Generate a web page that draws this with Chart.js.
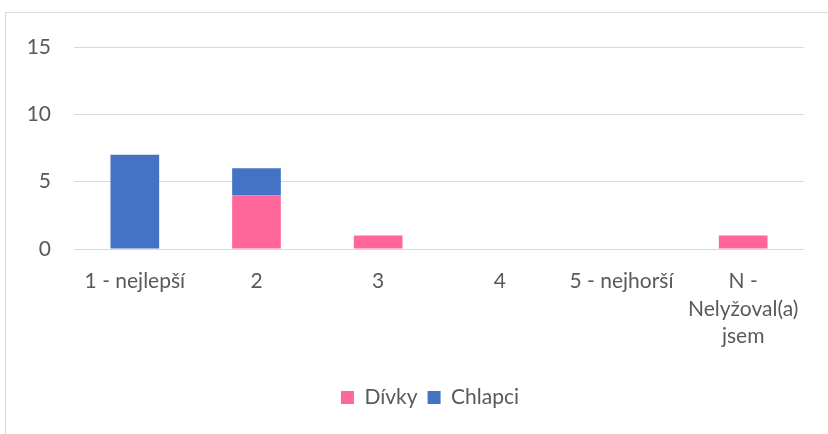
<!DOCTYPE html>
<html>
<head>
<meta charset="utf-8">
<script src="https://cdn.jsdelivr.net/npm/chart.js@4/dist/chart.umd.min.js"></script>
<style>
  html, body { margin: 0; padding: 0; background: #fff; }
  #wrap { position: relative; width: 828px; height: 434px; overflow: hidden; }
  #frame { position: absolute; left: 5px; top: 12px; width: 900px; height: 500px; border: 1px solid #d9d9d9; }
  canvas { position: absolute; left: 0; top: 0; }
</style>
</head>
<body>
<div id="wrap">
  <div id="frame"></div>
  <canvas id="chart" width="828" height="434"></canvas>
</div>
<script>
const categories = ['1 - nejlepší', '2', '3', '4', '5 - nejhorší', ['N -', 'Nelyžoval(a)', 'jsem']];
const divky = [0, 4, 1, 0, 0, 1];
const chlapci = [7, 2, 0, 0, 0, 0];
const yTicks = [0, 5, 10, 15];

const textColor = '#595959';
const fontFamily = 'Lato, "Open Sans", sans-serif';

// the original legend sits a bit right of centre (frame is wider than the picture)
const shiftLegend = {
    id: 'shiftLegend',
    afterLayout(chart) {
        chart.legend.left += 28;
        chart.legend.right += 28;
    }
};

const ctx = document.getElementById('chart').getContext('2d');
new Chart(ctx, {
    type: 'bar',
    data: {
        labels: categories,
        datasets: [
            { label: 'Dívky', data: divky, backgroundColor: '#ff6699', barPercentage: 0.4, categoryPercentage: 1 },
            { label: 'Chlapci', data: chlapci, backgroundColor: '#4472c4', barPercentage: 0.4, categoryPercentage: 1 }
        ]
    },
    options: {
        responsive: false,
        animation: false,
        layout: { padding: { left: 0, right: 24, top: 47, bottom: 16 } },
        scales: {
            x: {
                stacked: true,
                grid: { display: false },
                border: { display: false },
                ticks: {
                    color: textColor,
                    font: { family: fontFamily, size: 21, lineHeight: 1.3 },
                    padding: 11,
                    maxRotation: 0,
                    autoSkip: false
                },
                afterFit: (scale) => { scale.height = 128; }
            },
            y: {
                stacked: true,
                min: 0,
                max: 15,
                afterBuildTicks: (scale) => { scale.ticks = yTicks.map(v => ({ value: v })); },
                grid: { color: '#d9d9d9', lineWidth: 1, drawTicks: false },
                border: { display: false },
                ticks: {
                    color: textColor,
                    font: { family: fontFamily, size: 21 },
                    padding: 23
                },
                afterFit: (scale) => { scale.width = 74; }
            }
        },
        plugins: {
            legend: {
                position: 'bottom',
                labels: {
                    color: textColor,
                    font: { family: fontFamily, size: 21 },
                    boxWidth: 13,
                    boxHeight: 13,
                    padding: 10
                }
            },
            tooltip: { enabled: false }
        }
    },
    plugins: [shiftLegend]
});
</script>
</body>
</html>
